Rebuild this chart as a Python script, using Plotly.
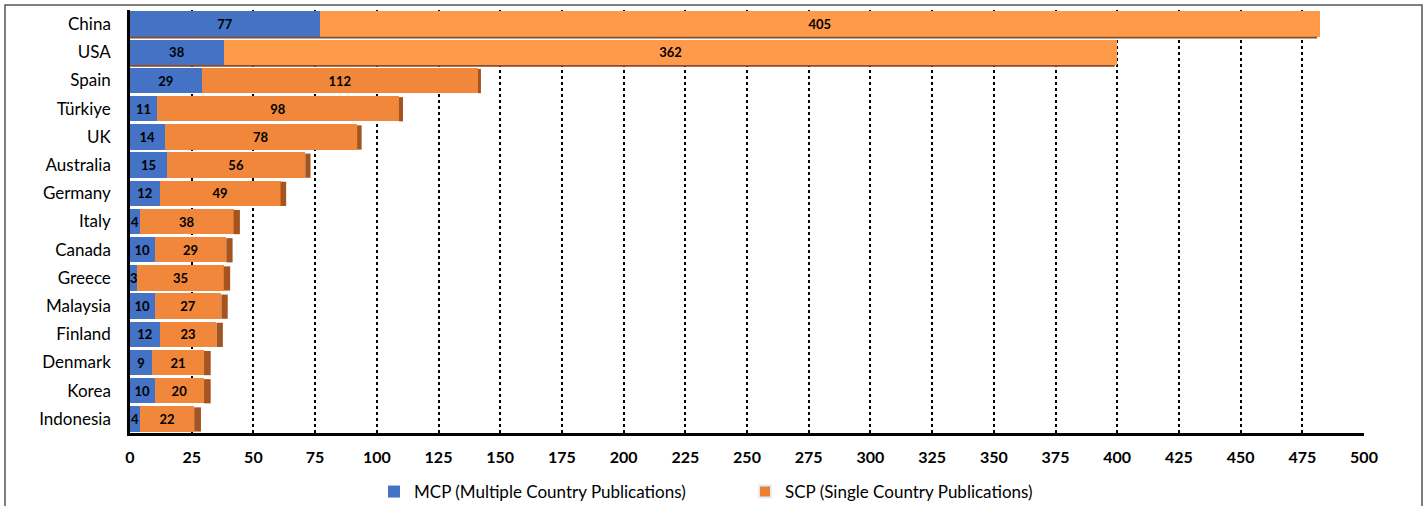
import plotly.graph_objects as go

countries = ["China", "USA", "Spain", "Türkiye", "UK", "Australia", "Germany", "Italy",
             "Canada", "Greece", "Malaysia", "Finland", "Denmark", "Korea", "Indonesia"]
mcp = [77, 38, 29, 11, 14, 15, 12, 4, 10, 3, 10, 12, 9, 10, 4]
scp = [405, 362, 112, 98, 78, 56, 49, 38, 29, 35, 27, 23, 21, 20, 22]
x_ticks = list(range(0, 501, 25))

W, H = 1426, 506
L, R, T, B = 130, 62, 10, 73
pw, ph = W - L - R, H - T - B

def px_x(p):
    return (p - L) / pw

def px_y(p):
    return (H - B - p) / ph

fig = go.Figure()
fig.add_trace(go.Bar(
    y=countries, x=mcp, orientation="h", name="MCP (Multiple Country Publications)",
    marker=dict(color="#4472C4", line=dict(width=0)),
    text=mcp, textposition="inside", insidetextanchor="middle",
    textfont=dict(family="Lato", size=13, color="black", weight="bold"),
))
scp_colors = ["#FF9A4A", "#FF9A4A"] + ["#F0873A"] * (len(scp) - 2)
fig.add_trace(go.Bar(
    y=countries, x=scp, orientation="h", name="SCP (Single Country Publications)",
    marker=dict(color=scp_colors, line=dict(width=0)),
    text=scp, textposition="inside", insidetextanchor="middle",
    textfont=dict(family="Lato", size=13, color="black", weight="bold"),
    showlegend=False, legendgroup="scp",
))
# legend entry for SCP with the flat orange swatch
fig.add_trace(go.Bar(
    y=[None], x=[None], orientation="h", name="SCP (Single Country Publications)",
    marker=dict(color="#ED7D31"), legendgroup="scp", showlegend=True, hoverinfo="skip",
))

# pseudo-3D darker end caps on the bars (style only, derived from the data totals)
half = 0.45
shapes = []
for i, (a, b) in enumerate(zip(mcp, scp)):
    tot = a + b
    w = max(0.0, 3.1 - 0.0135 * tot)
    if w > 0:
        shapes.append(dict(type="rect", xref="x", yref="y",
                           x0=tot, x1=tot + w, y0=i - half + 0.04, y1=i + half,
                           line=dict(width=0), fillcolor="#A5541F", layer="above"))
    else:
        shapes.append(dict(type="rect", xref="x", yref="y",
                           x0=0, x1=tot - 1, y0=i + half, y1=i + half + 0.06,
                           line=dict(width=0), fillcolor="#8A4A22", layer="above"))

shapes.append(dict(
    type="rect", xref="paper", yref="paper",
    x0=px_x(5), x1=px_x(1422), y0=px_y(530), y1=px_y(5),
    line=dict(color="#555555", width=1.5), fillcolor="rgba(0,0,0,0)", layer="below",
))

fig.update_layout(
    width=W, height=H,
    barmode="stack", bargap=0.1,
    margin=dict(l=L, r=R, t=T, b=B, autoexpand=False),
    paper_bgcolor="white", plot_bgcolor="white",
    font=dict(family="Lato", color="black"),
    uniformtext=dict(minsize=13, mode="show"),
    showlegend=True,
    legend=dict(
        orientation="h", x=px_x(374), xanchor="left", y=px_y(492), yanchor="middle",
        font=dict(family="Lato", size=17, color="black"),
        entrywidth=326, entrywidthmode="pixels",
        itemsizing="constant", traceorder="normal", itemwidth=30,
        bgcolor="rgba(0,0,0,0)",
    ),
    xaxis=dict(
        range=[0, 500], tickvals=x_ticks, ticktext=[str(v) for v in x_ticks],
        showgrid=True, gridcolor="black", griddash="dot", gridwidth=1.5,
        showline=True, linecolor="black", linewidth=2.5,
        zeroline=False, ticks="", ticklabelstandoff=8,
        tickfont=dict(family="Lato", size=16, color="black", weight="bold"),
        fixedrange=True,
    ),
    yaxis=dict(
        autorange="reversed", showgrid=False,
        showline=True, linecolor="black", linewidth=2.5,
        ticks="", ticklabelstandoff=13,
        tickfont=dict(family="Lato", size=17, color="black"),
        fixedrange=True,
    ),
    shapes=shapes,
)

fig.write_html("out.html")
